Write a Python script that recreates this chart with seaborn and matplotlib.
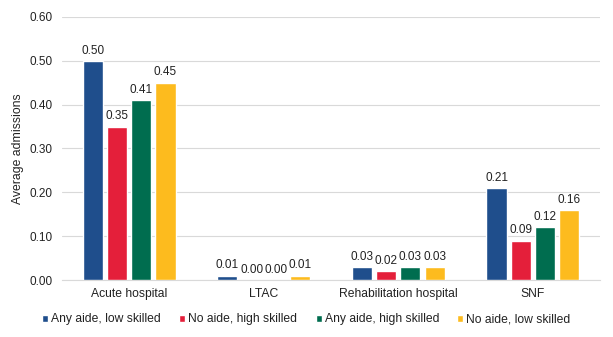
import matplotlib
matplotlib.use("Agg")
import matplotlib.pyplot as plt
import seaborn as sns
import pandas as pd
from matplotlib.patches import Patch

categories = ["Acute hospital", "LTAC", "Rehabilitation hospital", "SNF"]
series = ["Any aide, low skilled", "No aide, high skilled", "Any aide, high skilled", "No aide, low skilled"]
any_low = [0.50, 0.01, 0.03, 0.21]
no_high = [0.35, 0.00, 0.02, 0.09]
any_high = [0.41, 0.00, 0.03, 0.12]
no_low = [0.45, 0.01, 0.03, 0.16]
colors = ["#1F4E8C", "#E41F3A", "#006D4F", "#FDBB1E"]
yticks = [0.0, 0.1, 0.2, 0.3, 0.4, 0.5, 0.6]

rows = []
for s, vals in zip(series, [any_low, no_high, any_high, no_low]):
    for c, v in zip(categories, vals):
        rows.append({"category": c, "series": s, "value": v})
df = pd.DataFrame(rows)

sns.set_style("white")
plt.rcParams["font.family"] = ["Liberation Sans", "DejaVu Sans"]

fig = plt.figure(figsize=(6.13, 3.37), dpi=100)
ax = fig.add_axes([0.101, 0.169, 0.878, 0.781])

sns.barplot(data=df, x="category", y="value", hue="series", order=categories,
            hue_order=series, palette=colors, saturation=1, width=0.72, gap=0.17,
            errorbar=None, ax=ax, legend=False, zorder=3)

for cont in ax.containers:
    ax.bar_label(cont, fmt="%.2f", padding=3, fontsize=8.5, color="#222222")

ax.set_ylim(0, 0.6)
ax.set_xlim(-0.5, 3.5)
ax.set_yticks(yticks)
ax.set_yticklabels([f"{t:.2f}" for t in yticks], fontsize=8.5)
ax.tick_params(axis="x", labelsize=8.7, length=0, pad=6, colors="#222222")
ax.tick_params(axis="y", length=0, pad=7, colors="#222222")
ax.yaxis.grid(True, color="#D9D9D9", linewidth=0.8, zorder=0)
ax.set_axisbelow(True)
for s in ["top", "right", "left"]:
    ax.spines[s].set_visible(False)
ax.spines["bottom"].set_color("#D9D9D9")
ax.set_xlabel("")
ax.set_ylabel("Average admissions", fontsize=8.8, color="#222222", labelpad=4)

handles = [Patch(facecolor=c, label=s) for c, s in zip(colors, series)]
fig.legend(handles=handles, loc="center", bbox_to_anchor=(0.5, 0.052), ncol=4,
           frameon=False, fontsize=8.7, handlelength=0.5, handleheight=0.5,
           handletextpad=0.25, columnspacing=1.5, labelcolor="#222222")

fig.savefig("out.png", dpi=100)
